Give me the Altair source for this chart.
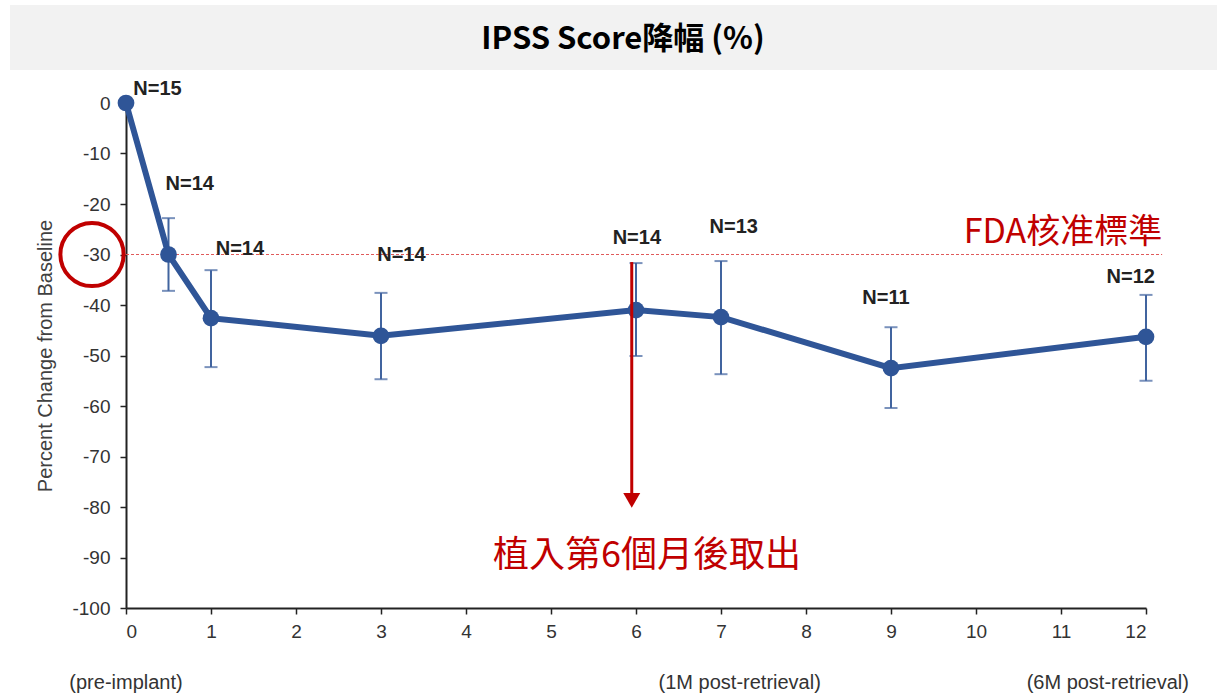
import altair as alt
import pandas as pd

# ---- data ----
months = [0, 0.5, 1, 3, 6, 7, 9, 12]
pct_change = [0, -30.0, -42.6, -46.1, -41.0, -42.4, -52.5, -46.3]
err_upper = [None, -22.8, -33.1, -37.6, -31.7, -31.3, -44.4, -38.0]
err_lower = [None, -37.2, -52.3, -54.7, -50.1, -53.7, -60.4, -55.0]
n_text = ["N=15", "N=14", "N=14", "N=14", "N=14", "N=13", "N=11", "N=12"]
n_label_x = [0.37, 0.75, 1.34, 3.24, 6.01, 7.15, 8.94, 11.82]
n_label_y = [2.8, -16.0, -28.9, -30.1, -26.7, -24.6, -38.6, -34.5]

x_ticks = list(range(0, 13))
y_ticks = list(range(-100, 1, 10))

period_text = ["(pre-implant)", "(1M post-retrieval)", "(6M post-retrieval)"]
period_x = [0, 7.22, 11.55]

fda_threshold = -30
fda_label = "FDA核准標準"
retrieval_label = "植入第6個月後取出"
retrieval_month = 5.95
title_text = "IPSS Score降幅 (%)"
y_title = "Percent Change from Baseline"

RED = "#c00000"
LINE = "#2f5597"
BAR = "#41649f"
LAT = "Liberation Sans"
CJK = "Noto Sans CJK TC"

main = pd.DataFrame({"x": months, "y": pct_change, "hi": err_upper, "lo": err_lower})
labels = pd.DataFrame({"x": n_label_x, "y": n_label_y, "t": n_text})
periods = pd.DataFrame({"x": period_x, "t": period_text})

xs = alt.Scale(domain=[0, 12], nice=False, zero=False)
ys = alt.Scale(domain=[-100, 0], nice=False, zero=False)
x_axis = alt.Axis(values=x_ticks, labelFontSize=19, labelFont=LAT, labelColor="#333",
                  tickSize=6, tickColor="#222", tickWidth=1.5, domainColor="#222",
                  domainWidth=2, labelPadding=8, grid=False, title=None,
                  labelExpr="toString(datum.value)")
y_axis = alt.Axis(values=y_ticks, labelFontSize=19, labelFont=LAT, labelColor="#333",
                  tickSize=6, tickColor="#222", tickWidth=1.5, domainColor="#222",
                  domainWidth=2, labelPadding=10, grid=False, title=y_title,
                  titleFont=LAT, titleFontSize=20, titleFontWeight="normal",
                  titleColor="#404040", titleX=-81, titleBaseline="middle",
                  labelExpr="toString(datum.value)")

X = alt.X("x:Q", scale=xs, axis=x_axis)
Y = alt.Y("y:Q", scale=ys, axis=y_axis)

one = pd.DataFrame({"t": [title_text]})

band = alt.Chart(one).mark_rect(color="#f2f2f2").encode(
    x=alt.value(-116), x2=alt.value(1091), y=alt.value(-98), y2=alt.value(-33))
title = alt.Chart(one).mark_text(font=CJK, fontSize=31, fontWeight="bold", color="black",
                                 align="center", baseline="middle").encode(
    x=alt.value(497), y=alt.value(-63), text="t:N")

fda_df = pd.DataFrame({"x": [0], "x2": [12.19], "y": [fda_threshold]})
fda_line = alt.Chart(fda_df).mark_rule(color="#e05a5a", strokeWidth=1, strokeDash=[3, 2]).encode(
    x=X, x2="x2:Q", y=Y)

err_df = main.dropna()
err_rule = alt.Chart(err_df).mark_rule(color=BAR, strokeWidth=2).encode(
    x=X, y=alt.Y("lo:Q", scale=ys, axis=y_axis), y2="hi:Q")
caps = alt.Chart(err_df).transform_fold(["lo", "hi"], as_=["k", "y"]).mark_tick(
    orient="horizontal", color=BAR, size=13, thickness=2).encode(x=X, y=Y)

line = alt.Chart(main).mark_line(color=LINE, strokeWidth=6).encode(x=X, y=Y)
pts = alt.Chart(main).mark_circle(color=LINE, size=280, opacity=1).encode(x=X, y=Y)

ntext = alt.Chart(labels).mark_text(font=LAT, fontSize=20, fontWeight="bold", color="#222",
                                    align="center", baseline="middle").encode(x=X, y=Y, text="t:N")

circ_df = pd.DataFrame({"x": [-0.4], "y": [fda_threshold]})
circle = alt.Chart(circ_df).mark_point(shape="circle", size=4000, stroke=RED, strokeWidth=4,
                                       filled=False, opacity=1).encode(x=X, y=Y)

fda_txt_df = pd.DataFrame({"x": [12.19], "y": [-25.7], "t": [fda_label]})
fda_txt = alt.Chart(fda_txt_df).mark_text(font=CJK, fontSize=34, color=RED, align="right",
                                          baseline="middle").encode(x=X, y=Y, text="t:N")

arrow_df = pd.DataFrame({"x": [retrieval_month], "y": [-31.5], "y2": [-78.0]})
arrow = alt.Chart(arrow_df).mark_rule(color=RED, strokeWidth=3).encode(x=X, y=Y, y2="y2:Q")
head_df = pd.DataFrame({"x": [retrieval_month], "y": [-78.7]})
head = alt.Chart(head_df).mark_point(shape="triangle-down", size=289, filled=True, color=RED,
                                     opacity=1).encode(x=X, y=Y)

ret_df = pd.DataFrame({"x": [6.13], "y": [-89.7], "t": [retrieval_label]})
ret_txt = alt.Chart(ret_df).mark_text(font=CJK, fontSize=36, color=RED, align="center",
                                      baseline="middle").encode(x=X, y=Y, text="t:N")

period_txt = alt.Chart(periods).mark_text(font=LAT, fontSize=20, color="#333", align="center",
                                          baseline="middle").encode(x=X, y=alt.value(580), text="t:N")

chart = alt.layer(
    band, title, fda_line, err_rule, caps, line, pts, ntext, circle, fda_txt, arrow, head,
    ret_txt, period_txt
).properties(
    width=1020, height=505,
    background="white",
    autosize=alt.AutoSizeParams(type="none"),
    padding={"left": 126, "top": 103, "right": 71, "bottom": 88},
).configure_view(stroke=None)

chart.save("out.html", embed_options={"renderer": "svg", "actions": False})
